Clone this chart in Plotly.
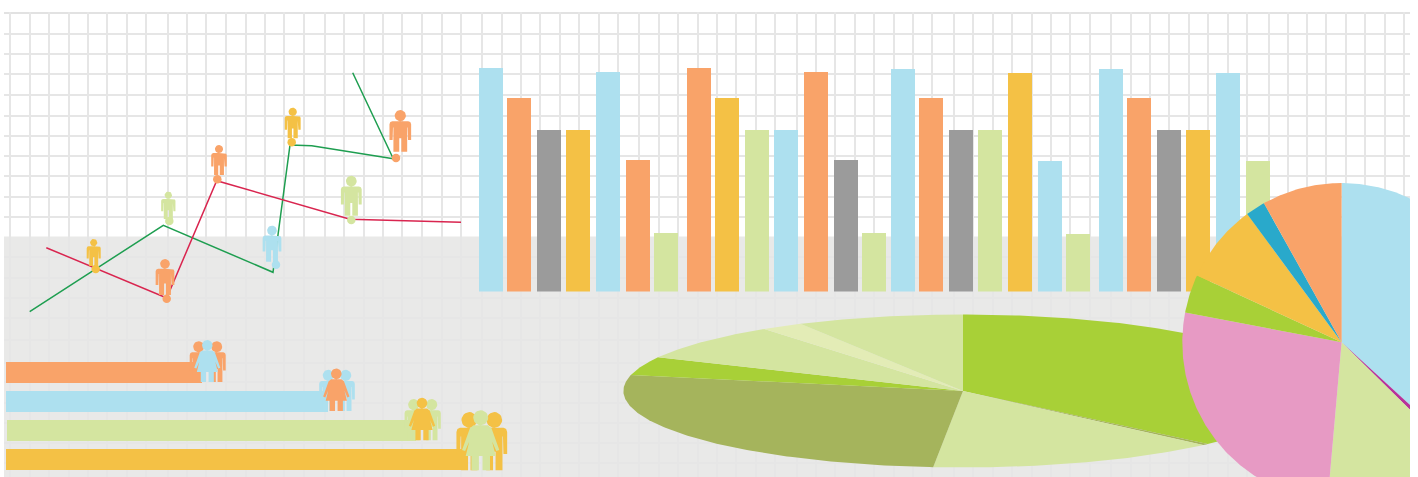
import math
import plotly.graph_objects as go

# ---- palette
ORANGE, BLUE, GREEN, YELLOW = "#f9a369", "#ade0ef", "#d4e5a0", "#f4c145"
GREY, LIME, OLIVE, PALE = "#9b9b9b", "#a8d037", "#a5b45c", "#e3ecb6"
PINK, TEAL, MAGENTA = "#e79ac4", "#29a9cb", "#b8329a"

# ---- column chart
column_group_1 = [223.5, 193.5, 161.5, 161.5, 219.5, 131.5, 58.5]
column_group_2 = [223.5, 193.5, 161.5, 161.5, 219.5, 131.5, 58.5]
column_group_3 = [222.5, 193.5, 161.5, 161.5, 218.5, 130.5, 57.5]
column_group_4 = [222.5, 193.5, 161.5, 161.5, 218.5, 130.5]
column_colors_1 = [BLUE, ORANGE, GREY, YELLOW, BLUE, ORANGE, GREEN]
column_colors_2 = [ORANGE, YELLOW, GREEN, BLUE, ORANGE, GREY, GREEN]
column_colors_3 = [BLUE, ORANGE, GREY, GREEN, YELLOW, BLUE, GREEN]
column_colors_4 = [BLUE, ORANGE, GREY, YELLOW, BLUE, GREEN]

# ---- horizontal bars
hbar_values = [196, 322, 409, 459]
hbar_colors = [ORANGE, BLUE, GREEN, YELLOW]

# ---- line series
green_line_x = [29.7, 163.3, 273, 290, 311.7, 393.3, 352.7]
green_line_y = [165.3, 251.7, 204.7, 332, 331.3, 318.3, 404.3]
red_line_x = [46.3, 166.7, 216.7, 350, 461]
red_line_y = [229.3, 179, 296.3, 257.7, 254.7]

# ---- line-point markers
dot_x = [95.7, 169.3, 166.7, 217.3, 276, 291.7, 396, 351.3]
dot_y = [208, 256, 178.3, 297.7, 212.3, 334.7, 319, 257]
dot_colors = [YELLOW, GREEN, ORANGE, ORANGE, BLUE, YELLOW, ORANGE, GREEN]

# ---- pies (shares in percent, clockwise from 12 o'clock)
flat_pie_shares = [37.2, 0.3, 13.9, 26.95, 3.9, 7.8, 2.0, 7.95]
flat_pie_colors = [LIME, OLIVE, GREEN, OLIVE, LIME, GREEN, PALE, GREEN]
round_pie_shares = [36.8, 0.6, 14.0, 26.6, 3.9, 8.0, 2.0, 8.1]
round_pie_colors = [BLUE, MAGENTA, GREEN, PINK, LIME, YELLOW, TEAL, ORANGE]

# ---- gridline positions
grid_x = [10, 29.7, 49, 68.7, 88, 107, 126.7, 146, 167.7, 186.7, 206, 225.7, 245.7, 265, 284,
          303.7, 325, 344, 363.7, 383, 402, 422, 441.7, 461, 482, 501.7, 521, 540.3, 559.7,
          579, 598.7, 618.3, 639.3, 659, 678.3, 697.7, 717, 736.3, 755.7, 775, 796.7, 816,
          835.3, 855, 874.3, 893.7, 913, 932.3, 954, 973.3, 992.7, 1012, 1031.7, 1051, 1070.3,
          1089.7, 1111, 1130.7, 1150, 1169.3, 1189, 1208.3, 1227.7, 1247, 1268.7, 1288, 1307,
          1326.3, 1345.7, 1365.3, 1384.7, 1404]
grid_y = [443.5, 423, 402.7, 382.3, 361.3, 341, 321, 300.7, 280.3, 260, 220, 199, 179, 158.7,
          137, 114.3, 95, 74, 54, 34, 14]

# ---- layout geometry
BAR_BASE = 185.5
group_starts = [479, 687, 891, 1099]
group_offsets = [0, 28, 58, 87, 117, 147, 175]
hbar_rows = [104.5, 75.5, 46.5, 17.5]
hbar_starts = [6, 6, 7, 6]

fig = go.Figure()

# columns
col_x, col_y, col_c = [], [], []
groups = [(column_group_1, column_colors_1), (column_group_2, column_colors_2),
          (column_group_3, column_colors_3), (column_group_4, column_colors_4)]
for start, (vals, cols) in zip(group_starts, groups):
    for off, v, c in zip(group_offsets, vals, cols):
        col_x.append(start + off + 12)
        col_y.append(v)
        col_c.append(c)
fig.add_trace(go.Bar(x=col_x, y=col_y, base=BAR_BASE, width=24,
                     marker=dict(color=col_c, line=dict(width=0)), hoverinfo="skip"))
fig.add_trace(go.Bar(x=hbar_values, y=hbar_rows, base=hbar_starts, orientation="h", width=21,
                     marker=dict(color=hbar_colors, line=dict(width=0)), hoverinfo="skip"))


def wedge_traces(shares, colors, cx, cy, rx, ry):
    total = sum(shares)
    a = 0.0
    for s, c in zip(shares, colors):
        b = a + s / total * 2 * math.pi
        n = max(3, int((b - a) * 90))
        xs, ys = [cx], [cy]
        for i in range(n + 1):
            t = a + (b - a) * i / n
            xs.append(cx + rx * math.sin(t))
            ys.append(cy + ry * math.cos(t))
        xs.append(cx)
        ys.append(cy)
        fig.add_trace(go.Scatter(x=xs, y=ys, mode="lines", fill="toself", fillcolor=c,
                                 line=dict(width=0), hoverinfo="skip"))
        a = b


wedge_traces(flat_pie_shares, flat_pie_colors, 963, 86, 339.6, 76.5)
wedge_traces(round_pie_shares, round_pie_colors, 1341.6, 134.7, 159.3, 159.3)

# lines
fig.add_trace(go.Scatter(x=green_line_x, y=green_line_y, mode="lines",
                         line=dict(color="#1e9e50", width=1.5), hoverinfo="skip"))
fig.add_trace(go.Scatter(x=red_line_x, y=red_line_y, mode="lines",
                         line=dict(color="#d9254f", width=1.5), hoverinfo="skip"))
fig.add_trace(go.Scatter(x=dot_x, y=dot_y, mode="markers",
                         marker=dict(color=dot_colors, size=8.5, line=dict(width=0)),
                         hoverinfo="skip"))

MAN_HALF = [(0, .27), (.19, .27), (.24, .29), (.26, .34), (.26, .72), (.185, .72),
            (.175, .42), (.165, .42), (.165, 1), (.025, 1), (.025, .68), (0, .68)]
WOMAN_HALF = [(0, .25), (.12, .25), (.18, .30), (.31, .66), (.26, .68), (.19, .52),
              (.25, .76), (.155, .76), (.155, 1), (.03, 1), (.03, .76), (0, .76)]
MAN_HEAD = (.135, .135)
WOMAN_HEAD = (.125, .125)


def icon_xy(shape, head, x, feet, h, xscale):
    pts = [(p, q) for p, q in shape] + [(-p, q) for p, q in reversed(shape)]
    xs = [x + p * h * xscale for p, q in pts] + [x + pts[0][0] * h * xscale] + [None]
    ys = [feet + (1 - q) * h for p, q in pts] + [feet + (1 - pts[0][1]) * h] + [None]
    r, cy = head
    for i in range(25):
        t = i / 24 * 2 * math.pi
        xs.append(x + r * h * math.cos(t))
        ys.append(feet + (1 - cy) * h + r * h * math.sin(t))
    xs.append(None)
    ys.append(None)
    return xs, ys


def draw_icon(shape, head, color, x, feet, h, xscale=1.0):
    xs, ys = icon_xy(shape, head, x, feet, h, xscale)
    fig.add_trace(go.Scatter(x=xs, y=ys, mode="lines", fill="toself", fillcolor=color,
                             line=dict(width=0), hoverinfo="skip"))


# standing figures: colour, centre, feet, height
singles = [(YELLOW, 93.7, 211, 27), (GREEN, 168.3, 258, 27.5), (ORANGE, 165, 182, 36),
           (ORANGE, 219, 302, 30), (BLUE, 272, 215.3, 36), (YELLOW, 292.7, 338.7, 30.6),
           (ORANGE, 400.3, 325.3, 41.7), (GREEN, 351.3, 261.3, 40)]
for c, x, f, h in singles:
    draw_icon(MAN_HALF, MAN_HEAD, c, x, f, h)

# groups of three: men colour, woman colour, left man, right man, woman, feet, height
trios = [(ORANGE, BLUE, 198.7, 216.7, 207.3, 95, 42),
         (BLUE, ORANGE, 328.3, 345.7, 336.3, 66, 42.5),
         (GREEN, YELLOW, 413.7, 431.7, 422, 36.7, 42.5),
         (YELLOW, GREEN, 469.3, 494.3, 480.7, 6.7, 60)]
for mc, wc, x1, x2, xw, f, h in trios:
    draw_icon(MAN_HALF, MAN_HEAD, mc, x1, f, h * .97, .85)
    draw_icon(MAN_HALF, MAN_HEAD, mc, x2, f, h * .97, .85)
    draw_icon(WOMAN_HALF, WOMAN_HEAD, wc, xw, f, h)

fig.update_layout(
    width=1418, height=477, autosize=False,
    margin=dict(l=4, r=8, t=12, b=0, pad=0),
    paper_bgcolor="white", plot_bgcolor="white",
    showlegend=False, barmode="overlay",
    shapes=[
        dict(type="rect", layer="below", xref="x", yref="y", x0=4, x1=1410, y0=0, y1=240.5,
             fillcolor="#e9e9e8", line=dict(width=0)),
        dict(type="line", layer="below", xref="x", yref="y", x0=4, x1=1410, y0=464, y1=464,
             line=dict(color="#e2e2e2", width=2)),
    ],
    xaxis=dict(range=[4, 1410], showline=False, zeroline=False, showticklabels=False,
               tickmode="array", tickvals=grid_x, showgrid=True, gridcolor="#e6e6e6",
               gridwidth=1.5, ticks="", fixedrange=True),
    yaxis=dict(range=[0, 465], showline=False, zeroline=False, showticklabels=False,
               tickmode="array", tickvals=grid_y, showgrid=True, gridcolor="#e6e6e6",
               gridwidth=1.5, ticks="", fixedrange=True),
)
fig.write_html("out.html", config=dict(displayModeBar=False),
               post_script="document.body.style.margin='0';document.body.style.overflow='hidden';")
